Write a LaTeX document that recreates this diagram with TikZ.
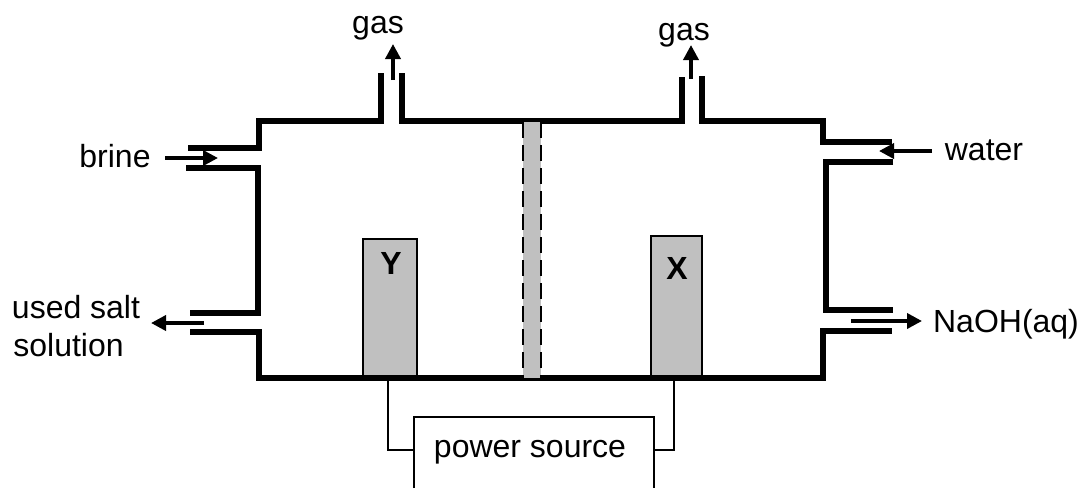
\documentclass[tikz,border=0pt]{standalone}
\usepackage{fontspec}
\setmainfont{Liberation Sans}
\usetikzlibrary{arrows.meta}
\definecolor{electrode}{HTML}{C0C0C0}
\tikzset{
  wall/.style={line width=2.8pt},
  wire/.style={line width=1.3pt},
  flow/.style={line width=1.8pt,-{Triangle[length=7.5pt,width=7.5pt]}},
  plate/.style={draw,line width=0.7pt,fill=electrode},
  dashside/.style={line width=1pt,dash pattern=on 8pt off 3.5pt},
  txt/.style={inner sep=0pt,anchor=base,font=\fontsize{16}{19}\selectfont},
  boldtxt/.style={txt,font=\bfseries\fontsize{16}{19}\selectfont}
}
\begin{document}
\begin{tikzpicture}[x=0.5pt,y=-0.5pt]
  \useasboundingbox (0,0) rectangle (1081,488);
  %electrodes
  \draw[plate] (363,239) rectangle (417,378);
  \draw[plate] (651,236) rectangle (702,378);
  \node[boldtxt] (labY) at (391,274) {Y};
  \node[boldtxt] (labX) at (677,279) {X};
  %cell walls
  \draw[wall] (188,148) -- (259,148) -- (259,121) -- (381,121) -- (381,73);
  \draw[wall] (402,73) -- (402,121) -- (682,121) -- (682,77);
  \draw[wall] (702,76) -- (702,121) -- (823,121) -- (823,142) -- (892,142);
  \draw[wall] (186,168) -- (258,168) -- (258,313) -- (190,313);
  \draw[wall] (190,332) -- (259,332) -- (259,378) -- (823,378) -- (823,331) -- (892,331);
  \draw[wall] (893,162) -- (826,162) -- (826,310) -- (893,310);
  %membrane
  \fill[electrode] (523,122) rectangle (541,378);
  \draw[dashside] (523,122) -- (523,378);
  \draw[dashside] (541,122) -- (541,378);
  %power source, runs off the bottom
  \draw[wire] (414,488) -- (414,417) -- (654,417) -- (654,488);
  \node[txt] (source) at (530,457) {power source};
  \coordinate (wireYa) at (388,378);
  \coordinate (wireYb) at (414,450);
  \coordinate (wireXa) at (674,378);
  \coordinate (wireXb) at (654,450);
  \draw[wire] (wireYa) |- (wireYb);
  \draw[wire] (wireXa) |- (wireXb);
  %labels
  \node[txt] (gasY) at (378,33) {gas};
  \node[txt] (gasX) at (684,40) {gas};
  \node[txt] (brine) at (115,167) {brine};
  \node[txt] (used) at (76,318) {used salt};
  \node[txt,anchor=base west] (solution) at (13,356) {solution};
  \node[txt] (water) at (984,160) {water};
  \node[txt] (naoh) at (1006,332) {NaOH(aq)};
  %flow arrows
  \coordinate (brineA) at (165,158);
  \coordinate (brineB) at (218,158);
  \coordinate (usedA) at (204,323);
  \coordinate (usedB) at (151,323);
  \coordinate (waterA) at (932,151);
  \coordinate (waterB) at (879,151);
  \coordinate (naohA) at (851,321);
  \coordinate (naohB) at (922,321);
  \coordinate (gasYa) at (393,80);
  \coordinate (gasYb) at (393,44);
  \coordinate (gasXa) at (691,79);
  \coordinate (gasXb) at (691,45);
  \draw[flow] (brineA) -- (brineB);
  \draw[flow] (usedA) -- (usedB);
  \draw[flow] (waterA) -- (waterB);
  \draw[flow] (naohA) -- (naohB);
  \draw[flow] (gasYa) -- (gasYb);
  \draw[flow] (gasXa) -- (gasXb);
\end{tikzpicture}
\end{document}
